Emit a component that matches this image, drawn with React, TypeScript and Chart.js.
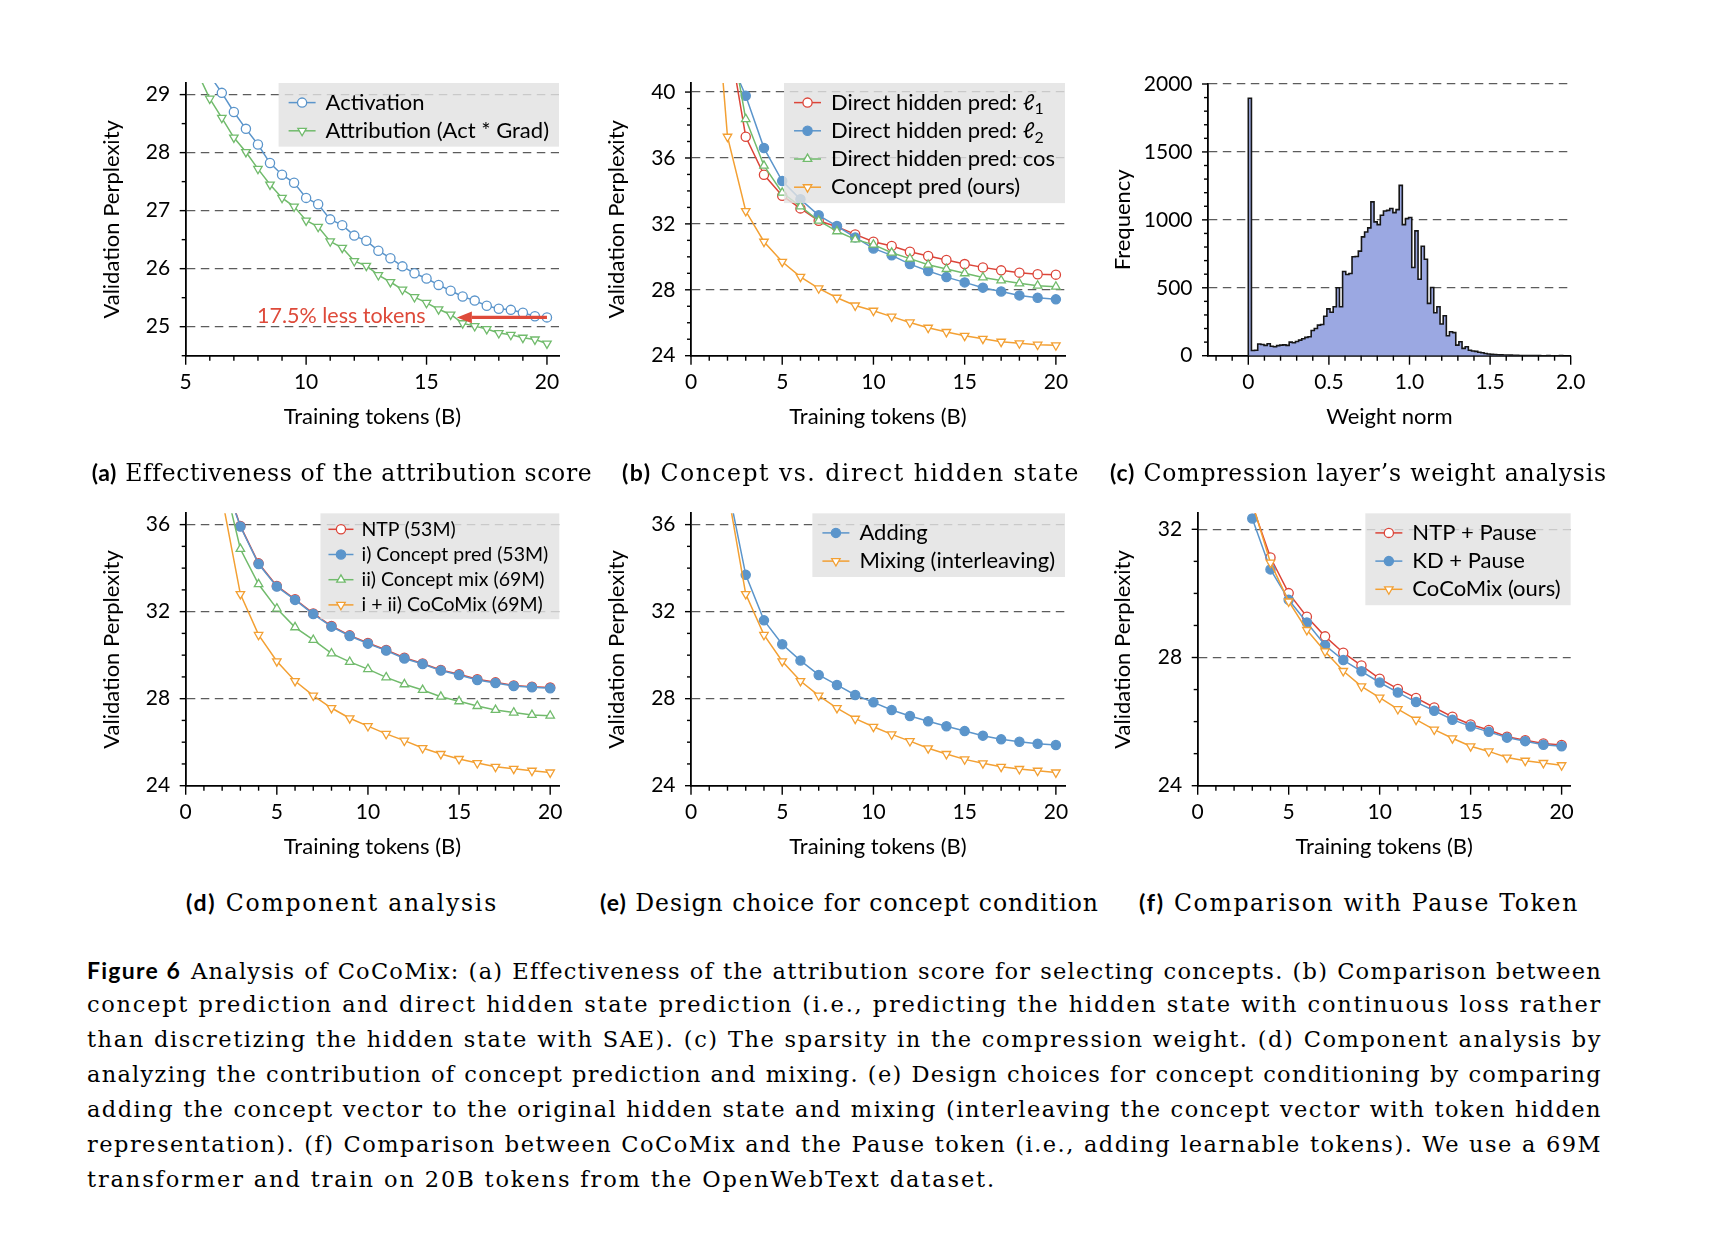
import React, { useEffect, useLayoutEffect, useRef } from "react";
import { Chart, registerables } from "chart.js";

Chart.register(...registerables);

const SANS = 'Lato, "DejaVu Sans", sans-serif';
const SERIF = '"DejaVu Serif", "Liberation Serif", serif';
Chart.defaults.font.family = SANS;
Chart.defaults.font.size = 21;
Chart.defaults.color = "#000";

const BLUE = "#5b95cb";
const RED = "#dc4539";
const GREEN = "#71bb6c";
const ORANGE = "#f3a033";
const HIST_FILL = "#9ba8e2";

// ---------------- data ----------------
// (a) attribution score
const A_X_ACT = [6, 6.5, 7, 7.5, 8, 8.5, 9, 9.5, 10, 10.5, 11, 11.5, 12, 12.5, 13, 13.5, 14, 14.5, 15, 15.5, 16, 16.5, 17, 17.5, 18, 18.5, 19, 19.5, 20];
const A_ACT = [29.33, 29.03, 28.7, 28.41, 28.14, 27.82, 27.62, 27.48, 27.22, 27.11, 26.85, 26.75, 26.57, 26.48, 26.31, 26.18, 26.04, 25.92, 25.83, 25.72, 25.62, 25.52, 25.45, 25.36, 25.31, 25.29, 25.24, 25.18, 25.16];
const A_X_ATT = [5.5, 6, 6.5, 7, 7.5, 8, 8.5, 9, 9.5, 10, 10.5, 11, 11.5, 12, 12.5, 13, 13.5, 14, 14.5, 15, 15.5, 16, 16.5, 17, 17.5, 18, 18.5, 19, 19.5, 20];
const A_ATT = [29.37, 28.93, 28.6, 28.26, 28.01, 27.72, 27.45, 27.22, 27.07, 26.83, 26.72, 26.47, 26.36, 26.13, 26.05, 25.89, 25.77, 25.64, 25.51, 25.41, 25.3, 25.21, 25.06, 25.01, 24.96, 24.89, 24.86, 24.81, 24.78, 24.71];
const A_LABELS = ["Activation", "Attribution (Act * Grad)"];
const A_ANNOT_TEXT = "17.5% less tokens";
const A_ANNOT_AT = [11.46, 25.19];
const A_ARROW_FROM = [20, 25.16];
const A_ARROW_TO = [16.26, 25.16];

// (b) concept vs direct hidden state
const B_X = [2, 3, 4, 5, 6, 7, 8, 9, 10, 11, 12, 13, 14, 15, 16, 17, 18, 19, 20];
const B_L1 = [43.8, 37.29, 34.98, 33.71, 32.94, 32.19, 31.83, 31.36, 30.92, 30.66, 30.31, 30.05, 29.81, 29.56, 29.36, 29.18, 29.04, 28.94, 28.92];
const B_L2 = [42.3, 39.78, 36.6, 34.6, 33.49, 32.52, 31.87, 31.18, 30.51, 30.09, 29.56, 29.14, 28.77, 28.45, 28.13, 27.9, 27.66, 27.52, 27.42];
const B_COS = [44.6, 38.36, 35.53, 33.89, 33.06, 32.19, 31.55, 31.06, 30.74, 30.25, 29.89, 29.52, 29.26, 29.0, 28.75, 28.57, 28.39, 28.25, 28.19];
const B_X_OURS = [1, 2, 3, 4, 5, 6, 7, 8, 9, 10, 11, 12, 13, 14, 15, 16, 17, 18, 19, 20];
const B_OURS = [51.0, 37.29, 32.78, 30.92, 29.7, 28.79, 28.09, 27.52, 27.05, 26.73, 26.37, 26.02, 25.7, 25.44, 25.21, 25.03, 24.85, 24.75, 24.67, 24.63];
const B_LABELS = ["Direct hidden pred: \u2113_1", "Direct hidden pred: \u2113_2", "Direct hidden pred: cos", "Concept pred (ours)"];

// (c) histogram of compression weight norms
const HIST_START = 0;
const HIST_BIN = 0.0195;
const HIST_COUNTS = [
  1895, 38, 40, 86, 82, 76, 88, 70, 66, 74,
  78, 80, 76, 100, 95, 105, 115, 125, 135, 140,
  185, 200, 225, 230, 290, 345, 320, 360, 500, 360,
  620, 598, 605, 728, 730, 770, 875, 911, 941, 1132,
  985, 965, 1034, 1065, 1070, 1083, 1053, 1075, 1254, 965,
  1009, 1017, 649, 919, 563, 806, 710, 385, 502, 316,
  360, 233, 294, 147, 176, 170, 78, 103, 54, 66,
  40, 35, 32, 25, 22, 16, 12, 10, 9, 7,
  6, 5, 5, 4, 3, 3, 2, 2, 2, 1,
  1, 1, 1, 0, 0, 1, 0, 0, 0, 1,
];

// (d) component analysis
const D_X = [2, 3, 4, 5, 6, 7, 8, 9, 10, 11, 12, 13, 14, 15, 16, 17, 18, 19, 20];
const D_NTP = [38.4, 35.94, 34.22, 33.18, 32.57, 31.92, 31.34, 30.91, 30.56, 30.24, 29.88, 29.62, 29.32, 29.12, 28.89, 28.75, 28.61, 28.55, 28.51];
const D_CP = [38.3, 35.91, 34.19, 33.15, 32.54, 31.89, 31.31, 30.88, 30.53, 30.21, 29.85, 29.59, 29.29, 29.09, 28.86, 28.72, 28.58, 28.52, 28.48];
const D_MIX = [38.4, 34.88, 33.26, 32.14, 31.28, 30.7, 30.08, 29.69, 29.36, 28.98, 28.66, 28.4, 28.09, 27.88, 27.66, 27.48, 27.36, 27.25, 27.22];
const D_COCO = [37.2, 32.81, 30.93, 29.72, 28.81, 28.14, 27.57, 27.1, 26.74, 26.38, 26.07, 25.73, 25.46, 25.23, 25.04, 24.87, 24.78, 24.69, 24.61];
const D_LABELS = ["NTP (53M)", "i) Concept pred (53M)", "ii) Concept mix (69M)", "i + ii) CoCoMix (69M)"];

// (e) design choice
const E_X = [2, 3, 4, 5, 6, 7, 8, 9, 10, 11, 12, 13, 14, 15, 16, 17, 18, 19, 20];
const E_ADD = [37.85, 33.69, 31.6, 30.5, 29.75, 29.09, 28.63, 28.17, 27.83, 27.48, 27.2, 26.96, 26.73, 26.51, 26.3, 26.13, 26.02, 25.93, 25.87];
const E_MIX = [37.6, 32.81, 30.93, 29.72, 28.81, 28.14, 27.57, 27.08, 26.71, 26.36, 26.05, 25.72, 25.46, 25.21, 25.03, 24.87, 24.77, 24.69, 24.61];
const E_LABELS = ["Adding", "Mixing (interleaving)"];

// (f) pause token
const F_X = [3, 4, 5, 6, 7, 8, 9, 10, 11, 12, 13, 14, 15, 16, 17, 18, 19, 20];
const F_NTP = [32.75, 31.12, 30.01, 29.27, 28.66, 28.15, 27.75, 27.34, 27.02, 26.74, 26.44, 26.15, 25.91, 25.74, 25.53, 25.42, 25.32, 25.27];
const F_KD = [32.34, 30.75, 29.8, 29.09, 28.38, 27.92, 27.57, 27.22, 26.91, 26.61, 26.34, 26.06, 25.85, 25.68, 25.5, 25.39, 25.28, 25.23];
const F_COCO = [32.82, 30.96, 29.75, 28.86, 28.19, 27.58, 27.1, 26.75, 26.39, 26.06, 25.75, 25.48, 25.23, 25.07, 24.88, 24.78, 24.71, 24.64];
const F_LABELS = ["NTP + Pause", "KD + Pause", "CoCoMix (ours)"];

// tick labels
const TOK_TICKS = [0, 5, 10, 15, 20];
const TOK_LABELS = ["0", "5", "10", "15", "20"];
const A_XTICKS = [5, 10, 15, 20];
const A_XLABELS = ["5", "10", "15", "20"];
const A_YTICKS = [25, 26, 27, 28, 29];
const A_YLABELS = ["25", "26", "27", "28", "29"];
const B_YTICKS = [24, 28, 32, 36, 40];
const B_YLABELS = ["24", "28", "32", "36", "40"];
const C_XTICKS = [0, 0.5, 1, 1.5, 2];
const C_XLABELS = ["0", "0.5", "1.0", "1.5", "2.0"];
const C_YTICKS = [0, 500, 1000, 1500, 2000];
const C_YLABELS = ["0", "500", "1000", "1500", "2000"];
const D_YTICKS = [24, 28, 32, 36];
const D_YLABELS = ["24", "28", "32", "36"];
const F_YTICKS = [24, 28, 32];
const F_YLABELS = ["24", "28", "32"];

const SUBCAPS = [
  { tag: "(a)", text: "Effectiveness of the attribution score", cx: 342, base: 480.7, w: 500 },
  { tag: "(b)", text: "Concept vs. direct hidden state", cx: 851, base: 480.7, w: 458 },
  { tag: "(c)", text: "Compression layer\u2019s weight analysis", cx: 1358.5, base: 480.7, w: 497 },
  { tag: "(d)", text: "Component analysis", cx: 342, base: 910.7, w: 312 },
  { tag: "(e)", text: "Design choice for concept condition", cx: 849.5, base: 910.7, w: 499 },
  { tag: "(f)", text: "Comparison with Pause Token", cx: 1359, base: 910.7, w: 440 },
];

const CAPTION_TAG = "Figure 6";
const CAPTION_LINES = [
  "Analysis of CoCoMix: (a) Effectiveness of the attribution score for selecting concepts. (b) Comparison between",
  "concept prediction and direct hidden state prediction (i.e., predicting the hidden state with continuous loss rather",
  "than discretizing the hidden state with SAE). (c) The sparsity in the compression weight. (d) Component analysis by",
  "analyzing the contribution of concept prediction and mixing. (e) Design choices for concept conditioning by comparing",
  "adding the concept vector to the original hidden state and mixing (interleaving the concept vector with token hidden",
  "representation). (f) Comparison between CoCoMix and the Pause token (i.e., adding learnable tokens). We use a 69M",
  "transformer and train on 20B tokens from the OpenWebText dataset.",
];
const CAP_LEFT = 87;
const CAP_W = 1515;
const CAP_LAST_W = 909;
const CAP_BASE0 = 978.5;
const CAP_STEP = 34.95;

// ---------------- helpers ----------------
function range(a: number, b: number, s: number) {
  const out: number[] = [];
  for (let v = a; v <= b + 1e-9; v += s) out.push(Math.round(v * 10000) / 10000);
  return out;
}
function minors(a: number, b: number, s: number, majors: number[]) {
  return range(a, b, s).filter((v) => !majors.some((m) => Math.abs(m - v) < 1e-6));
}

type Marker = "o" | "filled" | "^" | "v";
function series(label: string, xs: number[], ys: number[], color: string, marker: Marker) {
  const tri = marker === "^" || marker === "v";
  return {
    label,
    data: xs.map((x, i) => ({ x, y: ys[i] })),
    borderColor: color,
    backgroundColor: color,
    borderWidth: 1.5,
    pointStyle: tri ? "triangle" : "circle",
    pointRotation: marker === "v" ? 180 : 0,
    pointRadius: tri ? 4.9 : 4.6,
    pointBackgroundColor: marker === "filled" ? color : "#ffffff",
    pointBorderColor: color,
    pointBorderWidth: 1.3,
    fill: false,
    tension: 0,
  };
}

function histPoints() {
  const pts: { x: number; y: number }[] = [{ x: HIST_START, y: 0 }];
  HIST_COUNTS.forEach((c, i) => {
    const l = HIST_START + i * HIST_BIN;
    pts.push({ x: l, y: c });
    pts.push({ x: l + HIST_BIN, y: c });
  });
  pts.push({ x: HIST_START + HIST_COUNTS.length * HIST_BIN, y: 0 });
  return pts;
}

function drawMarker(ctx: CanvasRenderingContext2D, ds: any, x: number, y: number) {
  const r = ds.pointRadius;
  ctx.beginPath();
  if (ds.pointStyle === "triangle") {
    let rad = (ds.pointRotation * Math.PI) / 180;
    ctx.moveTo(x + Math.sin(rad) * r, y - Math.cos(rad) * r);
    rad += (2 * Math.PI) / 3;
    ctx.lineTo(x + Math.sin(rad) * r, y - Math.cos(rad) * r);
    rad += (2 * Math.PI) / 3;
    ctx.lineTo(x + Math.sin(rad) * r, y - Math.cos(rad) * r);
    ctx.closePath();
  } else {
    ctx.arc(x, y, r, 0, Math.PI * 2);
  }
  ctx.fillStyle = ds.pointBackgroundColor;
  ctx.fill();
  ctx.lineWidth = ds.pointBorderWidth;
  ctx.strokeStyle = ds.pointBorderColor;
  ctx.stroke();
}

function labelText(ctx: CanvasRenderingContext2D, label: string, x: number, y: number, fs: number, draw: boolean) {
  const parts = label.split("_");
  const big = `${fs}px ${SANS}`;
  const small = `${fs * 0.72}px ${SANS}`;
  ctx.textAlign = "left";
  ctx.textBaseline = "middle";
  ctx.fillStyle = "#000";
  ctx.font = big;
  let cx = x;
  if (draw) ctx.fillText(parts[0], cx, y);
  cx += ctx.measureText(parts[0]).width;
  for (let k = 1; k < parts.length; k++) {
    const sub = parts[k].slice(0, 1);
    const rest = parts[k].slice(1);
    ctx.font = small;
    if (draw) ctx.fillText(sub, cx, y + fs * 0.3);
    cx += ctx.measureText(sub).width;
    ctx.font = big;
    if (rest) {
      if (draw) ctx.fillText(rest, cx, y);
      cx += ctx.measureText(rest).width;
    }
  }
  return cx - x;
}

const tickMarks = {
  id: "tickMarks",
  afterDraw(chart: any, _a: any, o: any) {
    if (!o || !o.xMajor) return;
    const { ctx, chartArea: ca } = chart;
    const xs = chart.scales.x;
    const ys = chart.scales.y;
    ctx.save();
    ctx.strokeStyle = "#000";
    ctx.lineWidth = 1.4;
    const seg = (x1: number, y1: number, x2: number, y2: number) => {
      ctx.beginPath();
      ctx.moveTo(x1, y1);
      ctx.lineTo(x2, y2);
      ctx.stroke();
    };
    o.xMajor.forEach((v: number) => { const p = xs.getPixelForValue(v); seg(p, ca.bottom, p, ca.bottom + 9); });
    o.xMinor.forEach((v: number) => { const p = xs.getPixelForValue(v); seg(p, ca.bottom, p, ca.bottom + 5); });
    o.yMajor.forEach((v: number) => { const p = ys.getPixelForValue(v); seg(ca.left - 6, p, ca.left, p); });
    o.yMinor.forEach((v: number) => { const p = ys.getPixelForValue(v); seg(ca.left - 4, p, ca.left, p); });
    ctx.restore();
  },
};

const annot = {
  id: "annot",
  afterDatasetsDraw(chart: any, _a: any, o: any) {
    if (!o || !o.text) return;
    const { ctx } = chart;
    const xs = chart.scales.x;
    const ys = chart.scales.y;
    ctx.save();
    ctx.fillStyle = o.color;
    ctx.strokeStyle = o.color;
    ctx.font = `${o.fontSize}px ${SANS}`;
    ctx.textAlign = "center";
    ctx.textBaseline = "middle";
    ctx.fillText(o.text, xs.getPixelForValue(o.at[0]), ys.getPixelForValue(o.at[1]));
    const x1 = xs.getPixelForValue(o.from[0]);
    const y1 = ys.getPixelForValue(o.from[1]);
    const x2 = xs.getPixelForValue(o.to[0]);
    const y2 = ys.getPixelForValue(o.to[1]);
    const ang = Math.atan2(y2 - y1, x2 - x1);
    const hl = 15;
    const hw = 5.8;
    const bx = x2 - hl * Math.cos(ang);
    const by = y2 - hl * Math.sin(ang);
    ctx.lineWidth = 3.3;
    ctx.beginPath();
    ctx.moveTo(x1, y1);
    ctx.lineTo(bx, by);
    ctx.stroke();
    ctx.beginPath();
    ctx.moveTo(x2, y2);
    ctx.lineTo(bx + hw * Math.sin(ang), by - hw * Math.cos(ang));
    ctx.lineTo(bx - hw * Math.sin(ang), by + hw * Math.cos(ang));
    ctx.closePath();
    ctx.fill();
    ctx.restore();
  },
};

const boxLegend = {
  id: "boxLegend",
  afterDatasetsDraw(chart: any, _a: any, o: any) {
    if (!o || !o.fontSize) return;
    const { ctx, chartArea: ca } = chart;
    const dss = chart.data.datasets;
    ctx.save();
    const widths = dss.map((d: any) => labelText(ctx, d.label, 0, 0, o.fontSize, false));
    const maxW = Math.max(...widths);
    const boxW = o.padL + o.sample + o.gap + maxW + o.padR;
    const boxH = o.padT + o.rowH * dss.length + o.padB;
    const x0 = ca.right - boxW;
    const y0 = ca.top;
    ctx.fillStyle = "rgba(226,226,226,0.82)";
    ctx.fillRect(x0, y0, boxW, boxH);
    dss.forEach((d: any, i: number) => {
      const cy = y0 + o.padT + o.rowH * (i + 0.5);
      const sx = x0 + o.padL;
      ctx.strokeStyle = d.borderColor;
      ctx.lineWidth = d.borderWidth;
      ctx.beginPath();
      ctx.moveTo(sx, cy);
      ctx.lineTo(sx + o.sample, cy);
      ctx.stroke();
      drawMarker(ctx, d, sx + o.sample / 2, cy);
      labelText(ctx, d.label, sx + o.sample + o.gap, cy, o.fontSize, true);
    });
    ctx.restore();
  },
};

type Spec = {
  L: number; R: number; T: number; B: number; Yt: number; Xt: number;
  xMin: number; xMax: number; yMin: number; yMax: number;
  xTicks: number[]; xLabels: string[]; yTicks: number[]; yLabels: string[];
  xMinor: number[]; yMinor: number[];
  xTitle: string; yTitle: string;
  datasets: any[];
  legend?: any;
  annotation?: any;
};

const LEG_STD = { fontSize: 22, rowH: 28.2, padT: 5.5, padB: 1.8, padL: 10, sample: 27, gap: 10, padR: 10 };
const LEG_SMALL = { fontSize: 19.5, rowH: 25.2, padT: 3.4, padB: 1.7, padL: 8, sample: 25, gap: 8, padR: 11 };

const TOP = { T: 83, B: 355.7, Xt: 416.7 };
const BOT = { T: 513.3, B: 785.7, Xt: 846.7 };

const PANELS: Spec[] = [
  {
    L: 185.7, R: 559, T: TOP.T, B: TOP.B, Yt: 111.7, Xt: TOP.Xt,
    xMin: 5, xMax: 20.5, yMin: 24.5, yMax: 29.2,
    xTicks: A_XTICKS, xLabels: A_XLABELS, yTicks: A_YTICKS, yLabels: A_YLABELS,
    xMinor: minors(5, 20, 1, A_XTICKS), yMinor: minors(24.5, 29, 0.5, A_YTICKS),
    xTitle: "Training tokens (B)", yTitle: "Validation Perplexity",
    datasets: [
      series(A_LABELS[0], A_X_ACT, A_ACT, BLUE, "o"),
      series(A_LABELS[1], A_X_ATT, A_ATT, GREEN, "v"),
    ],
    legend: LEG_STD,
    annotation: { text: A_ANNOT_TEXT, at: A_ANNOT_AT, from: A_ARROW_FROM, to: A_ARROW_TO, color: "#de4a3a", fontSize: 21.5 },
  },
  {
    L: 691, R: 1065, T: TOP.T, B: TOP.B, Yt: 616.7, Xt: TOP.Xt,
    xMin: 0, xMax: 20.5, yMin: 24, yMax: 40.55,
    xTicks: TOK_TICKS, xLabels: TOK_LABELS, yTicks: B_YTICKS, yLabels: B_YLABELS,
    xMinor: minors(0, 20, 1, TOK_TICKS), yMinor: minors(24, 40, 1, B_YTICKS),
    xTitle: "Training tokens (B)", yTitle: "Validation Perplexity",
    datasets: [
      series(B_LABELS[0], B_X, B_L1, RED, "o"),
      series(B_LABELS[1], B_X, B_L2, BLUE, "filled"),
      series(B_LABELS[2], B_X, B_COS, GREEN, "^"),
      series(B_LABELS[3], B_X_OURS, B_OURS, ORANGE, "v"),
    ],
    legend: LEG_STD,
  },
  {
    L: 1208, R: 1570.7, T: 84, B: TOP.B, Yt: 1123, Xt: TOP.Xt,
    xMin: -0.25, xMax: 2.0, yMin: 0, yMax: 2000,
    xTicks: C_XTICKS, xLabels: C_XLABELS, yTicks: C_YTICKS, yLabels: C_YLABELS,
    xMinor: minors(-0.2, 2.0, 0.1, C_XTICKS), yMinor: minors(0, 2000, 100, C_YTICKS),
    xTitle: "Weight norm", yTitle: "Frequency",
    datasets: [
      {
        label: "Weight norm",
        data: histPoints(),
        borderColor: "#161616",
        borderWidth: 1.6,
        backgroundColor: HIST_FILL,
        fill: "origin",
        pointRadius: 0,
        tension: 0,
      },
    ],
  },
  {
    L: 185.7, R: 559.3, T: BOT.T, B: BOT.B, Yt: 111.7, Xt: BOT.Xt,
    xMin: 0, xMax: 20.5, yMin: 24, yMax: 36.52,
    xTicks: TOK_TICKS, xLabels: TOK_LABELS, yTicks: D_YTICKS, yLabels: D_YLABELS,
    xMinor: minors(0, 20, 1, TOK_TICKS), yMinor: minors(24, 36, 1, D_YTICKS),
    xTitle: "Training tokens (B)", yTitle: "Validation Perplexity",
    datasets: [
      series(D_LABELS[0], D_X, D_NTP, RED, "o"),
      series(D_LABELS[1], D_X, D_CP, BLUE, "filled"),
      series(D_LABELS[2], D_X, D_MIX, GREEN, "^"),
      series(D_LABELS[3], D_X, D_COCO, ORANGE, "v"),
    ],
    legend: LEG_SMALL,
  },
  {
    L: 691, R: 1065, T: BOT.T, B: BOT.B, Yt: 616.7, Xt: BOT.Xt,
    xMin: 0, xMax: 20.5, yMin: 24, yMax: 36.52,
    xTicks: TOK_TICKS, xLabels: TOK_LABELS, yTicks: D_YTICKS, yLabels: D_YLABELS,
    xMinor: minors(0, 20, 1, TOK_TICKS), yMinor: minors(24, 36, 1, D_YTICKS),
    xTitle: "Training tokens (B)", yTitle: "Validation Perplexity",
    datasets: [
      series(E_LABELS[0], E_X, E_ADD, BLUE, "filled"),
      series(E_LABELS[1], E_X, E_MIX, ORANGE, "v"),
    ],
    legend: LEG_STD,
  },
  {
    L: 1197.7, R: 1570.7, T: BOT.T, B: BOT.B, Yt: 1123.3, Xt: BOT.Xt,
    xMin: 0, xMax: 20.5, yMin: 24, yMax: 32.5,
    xTicks: TOK_TICKS, xLabels: TOK_LABELS, yTicks: F_YTICKS, yLabels: F_YLABELS,
    xMinor: minors(0, 20, 1, TOK_TICKS), yMinor: minors(24, 32, 1, F_YTICKS),
    xTitle: "Training tokens (B)", yTitle: "Validation Perplexity",
    datasets: [
      series(F_LABELS[0], F_X, F_NTP, RED, "o"),
      series(F_LABELS[1], F_X, F_KD, BLUE, "filled"),
      series(F_LABELS[2], F_X, F_COCO, ORANGE, "v"),
    ],
    legend: LEG_STD,
  },
];

const TITLE_FS = 22;
const TL = (TITLE_FS * 1.2) / 2; // half of the title line height

function labelFor(ticks: number[], labels: string[], v: number) {
  const i = ticks.findIndex((t) => Math.abs(t - v) < 1e-6);
  return i >= 0 ? labels[i] : "";
}

function Panel({ spec }: { spec: Spec }) {
  const ref = useRef<HTMLCanvasElement>(null);
  const cl = Math.floor(spec.Yt - TL);
  const ct = Math.floor(spec.T - 34);
  const cw = Math.ceil(spec.R + 36 - cl);
  const ch = Math.ceil(spec.Xt + TL - ct);
  useEffect(() => {
    const padTop = spec.T - ct;
    const padRight = cw - (spec.R - cl);
    const Wy = spec.L - cl;
    const Hx = ch - (spec.B - ct);
    const yTitlePad = spec.Yt - TL - cl;
    const xTitlePad = ch - TL - (spec.Xt - ct);
    const datasets = spec.datasets.map((d, i) => ({ ...d, order: -i }));
    const chart = new Chart(ref.current as HTMLCanvasElement, {
      type: "line",
      data: { datasets },
      options: {
        animation: false,
        responsive: false,
        maintainAspectRatio: false,
        events: [],
        layout: { padding: { top: padTop, right: padRight, left: 0, bottom: 0 } },
        plugins: {
          legend: { display: false },
          tooltip: { enabled: false },
          title: { display: false },
          boxLegend: spec.legend || false,
          annot: spec.annotation || false,
          tickMarks: { xMajor: spec.xTicks, xMinor: spec.xMinor, yMajor: spec.yTicks, yMinor: spec.yMinor },
        } as any,
        scales: {
          x: {
            type: "linear",
            bounds: "data",
            min: spec.xMin,
            max: spec.xMax,
            afterBuildTicks: (ax: any) => { ax.ticks = spec.xTicks.map((v) => ({ value: v })); },
            afterFit: (ax: any) => { ax.height = Hx; },
            ticks: {
              padding: 6.4,
              autoSkip: false,
              maxRotation: 0,
              minRotation: 0,
              color: "#000",
              font: { size: 21 },
              callback: (v: any) => labelFor(spec.xTicks, spec.xLabels, Number(v)),
            },
            grid: { display: false },
            border: { display: true, color: "#000", width: 1.8 },
            title: { display: true, text: spec.xTitle, color: "#000", font: { size: TITLE_FS }, padding: { top: 0, bottom: xTitlePad } },
          },
          y: {
            type: "linear",
            bounds: "data",
            min: spec.yMin,
            max: spec.yMax,
            afterBuildTicks: (ax: any) => { ax.ticks = spec.yTicks.map((v) => ({ value: v })); },
            afterFit: (ax: any) => { ax.width = Wy; },
            ticks: {
              padding: 15.5,
              autoSkip: false,
              color: "#000",
              font: { size: 21 },
              callback: (v: any) => labelFor(spec.yTicks, spec.yLabels, Number(v)),
            },
            grid: {
              display: true,
              drawOnChartArea: true,
              drawTicks: false,
              lineWidth: 1.3,
              color: (c: any) => (c.tick && Math.abs(c.tick.value - spec.yMin) < 1e-9 ? "rgba(0,0,0,0)" : "#5c5c5c"),
            },
            border: { display: true, color: "#000", width: 1.8, dash: [8.5, 5.5] },
            title: { display: true, text: spec.yTitle, color: "#000", font: { size: TITLE_FS }, padding: { top: yTitlePad, bottom: 0 } },
          },
        } as any,
      },
      plugins: [tickMarks, annot, boxLegend] as any,
    });
    return () => chart.destroy();
  }, []);
  return (
    <canvas
      ref={ref}
      width={cw}
      height={ch}
      style={{ position: "absolute", left: cl, top: ct, width: cw, height: ch, display: "block" }}
    />
  );
}

function contentWidth(el: HTMLElement) {
  const r = document.createRange();
  r.selectNodeContents(el);
  return r.getBoundingClientRect().width;
}

export default function App() {
  useLayoutEffect(() => {
    const fit = () => {
      document.querySelectorAll<HTMLElement>("[data-fitw]").forEach((el) => {
        el.style.letterSpacing = "0px";
        const target = parseFloat(el.dataset.fitw || "0");
        const n = (el.textContent || "").length;
        const w = contentWidth(el);
        el.style.letterSpacing = (target - w) / n + "px";
      });
      const lines = Array.from(document.querySelectorAll<HTMLElement>("[data-capline]"));
      lines.forEach((el) => {
        el.style.letterSpacing = "0px";
        el.style.textAlign = "left";
        (el.style as any).textAlignLast = "auto";
      });
      const last = lines[lines.length - 1];
      if (!last) return;
      const ls = (CAP_LAST_W - contentWidth(last)) / (last.textContent || "").length;
      lines.forEach((el, i) => {
        el.style.letterSpacing = ls + "px";
        const w = contentWidth(el);
        if (w > CAP_W - 4) el.style.letterSpacing = ls - (w - CAP_W + 8) / (el.textContent || "").length + "px";
        if (i < lines.length - 1) {
          el.style.textAlign = "justify";
          (el.style as any).textAlignLast = "justify";
        }
      });
    };
    fit();
    const fonts = (document as any).fonts;
    if (fonts && fonts.ready) fonts.ready.then(fit);
  }, []);

  return (
    <div style={{ position: "absolute", left: 0, top: 0, width: 1732, height: 1234, background: "#fff", overflow: "hidden" }}>
      {PANELS.map((p, i) => (
        <Panel key={i} spec={p} />
      ))}
      {SUBCAPS.map((s, i) => (
        <div
          key={"s" + i}
          style={{
            position: "absolute",
            left: s.cx - s.w / 2 - 40,
            width: s.w + 80,
            top: s.base - 24.2,
            lineHeight: "30px",
            textAlign: "center",
            whiteSpace: "nowrap",
            color: "#000",
          }}
        >
          <span data-fitw={s.w} style={{ whiteSpace: "nowrap" }}>
            <span style={{ fontFamily: SANS, fontWeight: 700, fontSize: 23 }}>{s.tag}</span>
            <span style={{ fontFamily: SERIF, fontSize: 23.5 }}>{" " + s.text}</span>
          </span>
        </div>
      ))}
      {CAPTION_LINES.map((line, i) => (
        <div
          key={"c" + i}
          data-capline="1"
          style={{
            position: "absolute",
            left: CAP_LEFT,
            width: CAP_W,
            top: CAP_BASE0 + i * CAP_STEP - 24,
            lineHeight: "30px",
            fontFamily: SERIF,
            fontSize: 22.5,
            whiteSpace: "nowrap",
            color: "#000",
          }}
        >
          {i === 0 ? (
            <span style={{ fontFamily: SANS, fontWeight: 700, fontSize: 23, marginRight: 10 }}>{CAPTION_TAG}</span>
          ) : null}
          {line}
        </div>
      ))}
    </div>
  );
}
